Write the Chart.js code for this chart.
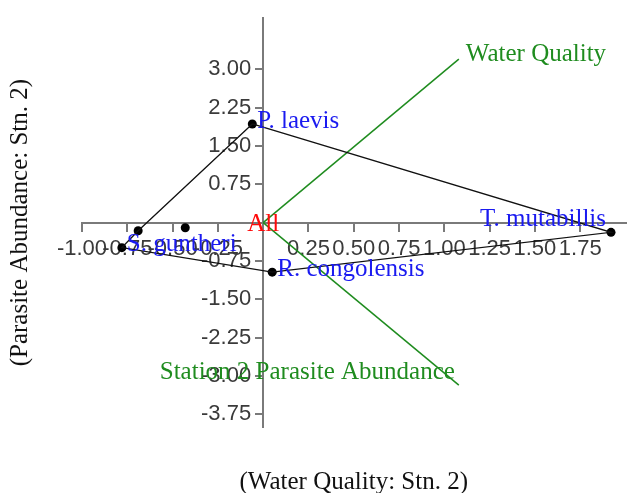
<!DOCTYPE html>
<html>
<head>
<meta charset="utf-8">
<script src="https://cdn.jsdelivr.net/npm/chart.js@4/dist/chart.umd.min.js"></script>
<style>
  html, body { margin: 0; padding: 0; background: #fff; }
  #wrap { width: 630px; height: 493px; }
</style>
</head>
<body>
<div id="wrap"><canvas id="c" width="630" height="493"></canvas></div>
<script>
// Species scores (unlabelled points have an empty name)
const speciesNames = ['P. laevis', 'T. mutabillis', 'R. congolensis', 'S. guntheri', '', ''];
const speciesX = [-0.06, 1.92, 0.05, -0.78, -0.69, -0.43];
const speciesY = [1.93, -0.19, -0.97, -0.49, -0.16, -0.10];
// Order of the points around the enclosing polygon
const hullOrder = [0, 1, 2, 3, 4, 0];

// Environmental vectors (drawn from the origin)
const vectorNames = ['Water Quality', 'Station 2 Parasite Abundance'];
const vectorX = [1.08, 1.08];
const vectorY = [3.20, -3.18];

const centroidName = 'All';

const xTicks = [-1.00, -0.75, -0.50, -0.25, 0.25, 0.50, 0.75, 1.00, 1.25, 1.50, 1.75];
const yTicks = [-3.75, -3.00, -2.25, -1.50, -0.75, 0.75, 1.50, 2.25, 3.00];
const xTitle = '(Water Quality: Stn. 2)';
const yTitle = '(Parasite Abundance: Stn. 2)';

const BLUE = '#1a1af0';
const GREEN = '#1f8c1f';
const RED = '#ff0a0a';
const AXIS = '#7a7a7a';
const SERIF = '"Liberation Serif", "Times New Roman", serif';

// plot frame inside the 630x493 canvas
const FRAME = { left: 82, top: 13, right: 630, bottom: 427 };

const datasets = [
  {
    data: hullOrder.map(i => ({ x: speciesX[i], y: speciesY[i] })),
    showLine: true, borderColor: '#111', borderWidth: 1.3,
    pointRadius: 0, fill: false, tension: 0
  },
  ...vectorNames.map((n, i) => ({
    data: [{ x: 0, y: 0 }, { x: vectorX[i], y: vectorY[i] }],
    showLine: true, borderColor: GREEN, borderWidth: 1.5,
    pointRadius: 0, fill: false, tension: 0
  })),
  {
    data: speciesX.map((v, i) => ({ x: v, y: speciesY[i] })),
    showLine: false, pointRadius: 4.5, pointBackgroundColor: '#000',
    pointBorderWidth: 0
  }
];

const labelPlugin = {
  id: 'biplotLabels',
  beforeDraw(chart) {
    // keep the y tick labels clear of the tick marks on the centred axis
    const ys = chart.scales.y;
    const gap = ys.options.grid.tickLength + ys.options.ticks.padding;
    ys.getLabelItems(chart.chartArea).forEach(it => {
      if (!it._shifted) { it.options.translation[0] -= gap; it._shifted = true; }
    });
  },
  afterDatasetsDraw(chart) {
    const { ctx, chartArea } = chart;
    const xs = chart.scales.x, ys = chart.scales.y;
    ctx.save();
    ctx.font = '25px ' + SERIF;
    ctx.textBaseline = 'middle';

    // species names beside their points
    ctx.fillStyle = BLUE;
    speciesNames.forEach((n, i) => {
      if (!n) return;
      const px = xs.getPixelForValue(speciesX[i]);
      const py = ys.getPixelForValue(speciesY[i]);
      const w = ctx.measureText(n).width;
      if (px + 5 + w <= chartArea.right) {
        ctx.textAlign = 'left';
        ctx.fillText(n, px + 5, py - 3);
      } else {
        ctx.textAlign = 'right';
        ctx.fillText(n, px - 5, py - 13);
      }
    });

    // vector names at the arrow tips
    ctx.fillStyle = GREEN;
    vectorNames.forEach((n, i) => {
      const px = xs.getPixelForValue(vectorX[i]);
      const py = ys.getPixelForValue(vectorY[i]);
      const w = ctx.measureText(n).width;
      if (px + 7 + w <= chartArea.right) {
        ctx.textAlign = 'left';
        ctx.fillText(n, px + 7, py - 5);
      } else {
        ctx.textAlign = 'right';
        ctx.fillText(n, px - 4, py - 13);
      }
    });

    // centroid label at the origin
    ctx.fillStyle = RED;
    ctx.textAlign = 'center';
    ctx.fillText(centroidName, xs.getPixelForValue(0), ys.getPixelForValue(0) + 2);
    ctx.restore();
  },
  afterDraw(chart) {
    const { ctx, chartArea } = chart;
    ctx.save();
    ctx.font = '25px ' + SERIF;
    ctx.fillStyle = '#111';
    ctx.textAlign = 'center';
    ctx.textBaseline = 'middle';
    ctx.fillText(xTitle, (chartArea.left + chartArea.right) / 2, 482);
    ctx.translate(20, (chartArea.top + chartArea.bottom) / 2);
    ctx.rotate(-Math.PI / 2);
    ctx.fillText(yTitle, 0, 0);
    ctx.restore();
  }
};

const tickFont = { family: '"Liberation Sans", Arial, sans-serif', size: 22 };

const chart = new Chart(document.getElementById('c'), {
  type: 'scatter',
  data: { datasets },
  plugins: [labelPlugin],
  options: {
    responsive: false,
    animation: false,
    devicePixelRatio: 1,
    layout: { padding: { left: FRAME.left, right: 0, top: FRAME.top, bottom: 493 - FRAME.bottom } },
    plugins: { legend: { display: false }, tooltip: { enabled: false } },
    scales: {
      x: {
        type: 'linear', min: -1, max: 2, position: { y: 0 },
        afterBuildTicks: s => { s.ticks = xTicks.map(v => ({ value: v })); },
        ticks: {
          autoSkip: false, maxRotation: 0, minRotation: 0,
          font: tickFont, color: '#3a3a3a', padding: 5,
          callback: v => Number(v).toFixed(2)
        },
        grid: { drawOnChartArea: false, drawTicks: true, tickLength: 8, color: AXIS, lineWidth: 2 },
        border: { display: true, color: AXIS, width: 2 }
      },
      y: {
        type: 'linear', min: -4, max: 4, position: { x: 0 },
        afterBuildTicks: s => { s.ticks = yTicks.map(v => ({ value: v })); },
        ticks: {
          autoSkip: false, font: tickFont, color: '#3a3a3a', padding: 5,
          callback: v => Number(v).toFixed(2)
        },
        grid: { drawOnChartArea: false, drawTicks: true, tickLength: 7, color: AXIS, lineWidth: 2 },
        border: { display: true, color: AXIS, width: 2 }
      }
    }
  }
});

// settle the layout padding so the plot area lands on FRAME
for (let k = 0; k < 4; k++) {
  const a = chart.chartArea;
  const p = chart.options.layout.padding;
  p.left += FRAME.left - a.left;
  p.top += FRAME.top - a.top;
  p.right += a.right - FRAME.right;
  p.bottom += a.bottom - FRAME.bottom;
  chart.update();
}
</script>
</body>
</html>
